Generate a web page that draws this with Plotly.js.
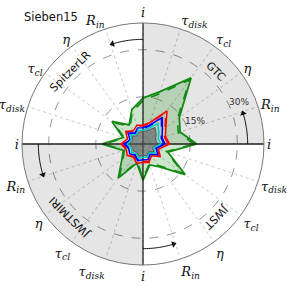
<!DOCTYPE html>
<html><head><meta charset="utf-8">
<script src="https://cdn.plot.ly/plotly-3.0.1.min.js"></script>
<style>html,body{margin:0;padding:0;background:#fff}#chart{width:287px;height:287px}</style>
</head><body><div id="chart"></div>
<script>
const chartTitle = 'Sieben15';
const angles = [0,18,36,54,72,90,108,126,144,162,180,198,216,234,252,270,288,306,324,342];
const paramLabels = ['<i>i</i>','<i>R</i><sub><i>in</i></sub>','<i>η</i>','<i>τ</i><sub><i>cl</i></sub>','<i>τ</i><sub><i>disk</i></sub>'];
const angleLabels = [].concat(paramLabels, paramLabels, paramLabels, paramLabels);
const quadrantNames = ['GTC','SpitzerLR','JWSTMIRI','JWST'];
const quadrantCenters = [45,135,225,315];
const shadedCenters = [45,225];
const arrowStarts = [0,90,180,270];
const radialTicks = [15,30];
const radialTickLabels = ['15%','30%'];
const RMAX = 38.5;

const greenSolid  = [17.1,12.4,14.3,26.0,17.5,14.6,11.5,7.5,12.2,6.7,13.2,6.6,8.3,13.4,6.4,11.5,7.0,9.0,16.6,8.3];
const greenDashed = [16.3,11.8,13.5,25.3,16.8,13.8,10.8,7.0,11.5,6.2,12.5,6.2,7.8,12.7,6.0,10.8,6.6,8.5,15.8,7.8];
const redSolid    = [8.5,7.5,9.0,13.0,7.2,6.0,6.3,5.2,6.8,5.2,7.0,5.6,6.2,5.2,6.5,5.8,6.2,4.6,6.8,5.2];
const redDashed   = [8.0,7.2,8.6,12.4,6.9,5.7,6.0,5.0,6.5,4.9,6.6,5.3,5.8,4.9,6.2,5.5,5.8,4.4,6.4,4.9];
const blueSolid   = [7.0,6.4,7.6,10.5,6.2,5.2,5.4,4.4,5.8,4.4,6.0,4.8,5.2,4.4,5.6,5.0,5.2,4.0,5.8,4.4];
const blueDashed  = [6.6,6.1,7.2,10.0,5.9,4.9,5.1,4.2,5.5,4.2,5.6,4.5,4.9,4.2,5.3,4.7,4.9,3.8,5.5,4.2];
const cyanSolid   = [5.7,5.1,6.2,8.0,5.2,4.4,4.6,3.7,4.8,3.8,5.0,4.0,4.4,3.8,4.7,4.2,4.4,3.4,4.8,3.7];
const grayFill    = [4.8,4.2,5.2,6.5,4.5,3.9,4.0,3.2,4.2,3.4,4.4,3.5,3.8,3.3,4.1,3.7,3.9,3.0,4.2,3.2];

function closed(a){ return a.concat([a[0]]); }
const thetaClosed = closed(angles);

function series(vals, color, dash, fill, fillcolor, width){
  return {type:'scatterpolar', r: closed(vals), theta: thetaClosed, mode:'lines',
    line:{color:color, dash:dash, width:width||1.5},
    fill: fill ? 'toself' : 'none', fillcolor: fillcolor, hoverinfo:'skip', showlegend:false};
}

const data = [];
data.push({type:'barpolar', r: shadedCenters.map(()=>RMAX), theta: shadedCenters, width: shadedCenters.map(()=>90),
  marker:{color:'rgba(0,0,0,0.1)', line:{width:0}}, hoverinfo:'skip', showlegend:false});
data.push(series(greenSolid, '#138a13', 'solid', true, 'rgba(0,128,0,0.2)', 1.8));
data.push(series(greenDashed, '#138a13', 'dash', false, null, 1.6));
data.push({type:'scatterpolar', mode:'lines', r:[RMAX,0,RMAX,null,RMAX,0,RMAX], theta:[0,0,180,null,90,90,270],
  line:{color:'#222', width:1.3}, hoverinfo:'skip', showlegend:false});
data.push(series(redSolid, '#ff0000', 'solid', false, null, 1.5));
data.push(series(redDashed, '#ff0000', 'dash', false, null, 1.4));
data.push(series(blueSolid, '#0000ff', 'solid', false, null, 1.5));
data.push(series(blueDashed, '#0000ff', 'dash', false, null, 1.4));
data.push(series(cyanSolid, '#00c8d0', 'solid', false, null, 1.5));
data.push(series(grayFill, '#555', 'solid', true, 'rgba(90,90,100,0.6)', 1));

// direction arrows
const arrowSpan = 17, arrowR = 33.3;
arrowStarts.forEach(s => {
  const th = []; for (let t = s; t <= s + arrowSpan; t += 1) th.push(t);
  data.push({type:'scatterpolar', mode:'lines', r: th.map(()=>arrowR), theta: th, line:{color:'#111', width:1}, hoverinfo:'skip', showlegend:false});
  data.push({type:'scatterpolar', mode:'markers', r:[arrowR], theta:[s+arrowSpan], marker:{symbol:'triangle-up', size:6, color:'#111', angle: -(s+arrowSpan)}, hoverinfo:'skip', showlegend:false});
});

const cx = 143, cy = 144, R = 121, labR = 103, W = 287;
function toPaper(rpx, deg){ const a = deg*Math.PI/180; return [(cx + rpx*Math.cos(a))/W, 1 - (cy - rpx*Math.sin(a))/W]; }
const annotations = quadrantNames.map((name, i) => {
  let ta = 90 - quadrantCenters[i]; if (ta < -180) ta += 360;
  const p = toPaper(labR, quadrantCenters[i]);
  return {xref:'paper', yref:'paper', x:p[0], y:p[1],
    text:name, showarrow:false, textangle: ta, font:{family:'DejaVu Sans', size:11, color:'#111'}, xanchor:'center', yanchor:'middle'};
});
radialTicks.forEach((v, i) => {
  const p = toPaper(v/RMAX*R + 10, 23.5);
  annotations.push({xref:'paper', yref:'paper', x:p[0], y:p[1], text:radialTickLabels[i], showarrow:false,
    font:{family:'DejaVu Sans', size:9, color:'#333'}, xanchor:'center', yanchor:'middle'});
});
annotations.push({xref:'paper', yref:'paper', x:22/W, y:1-17/W, xanchor:'left', yanchor:'middle', text:chartTitle, showarrow:false, font:{family:'DejaVu Sans', size:11.5, color:'#111'}});

const layout = {
  width:287, height:287, margin:{l:0,r:0,t:0,b:0}, paper_bgcolor:'#fff', showlegend:false,
  annotations: annotations,
  polar:{
    domain:{x:[22/W, 264/W], y:[22/W, 264/W]},
    bgcolor:'rgba(0,0,0,0)',
    radialaxis:{range:[0,RMAX], tickmode:'array', tickvals:radialTicks, ticktext:radialTickLabels, showticklabels:false, angle:22, showline:false, ticks:'',
      gridcolor:'#777', griddash:'dash', gridwidth:0.8},
    angularaxis:{rotation:0, direction:'counterclockwise', tickmode:'array', tickvals:angles, ticktext:angleLabels,
      showline:true, linecolor:'#777', linewidth:1, gridcolor:'#bbb', griddash:'dot', gridwidth:0.8, ticks:'',
      tickfont:{family:'DejaVu Serif', size:13, color:'#111'}}
  }
};
Plotly.newPlot('chart', data, layout, {staticPlot:true, displayModeBar:false});
</script></body></html>
